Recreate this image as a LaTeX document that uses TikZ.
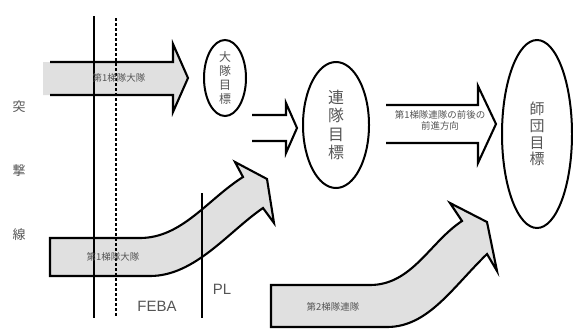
\documentclass[tikz,border=0pt]{standalone}
\usepackage{fontspec}
\setmainfont{Liberation Sans}
\newfontfamily\jp{Noto Sans CJK JP}
\usetikzlibrary{shapes.geometric}
\definecolor{arrfill}{HTML}{E0E0E0}
\definecolor{txt}{HTML}{555555}
\tikzset{
  outl/.style={line width=2.1bp, line join=miter, draw=black},
  goal/.style={ellipse, draw=black, line width=2bp, inner sep=0pt},
  goaltxt/.style={align=center, text=txt, inner sep=0pt},
  arrtxt/.style={text=txt, inner sep=0pt, font=\jp\fontsize{9.5}{11}\selectfont, align=center},
  vline/.style={line width=1.8bp},
}
\begin{document}
\begin{tikzpicture}[x=1bp,y=-1bp]
\useasboundingbox (0,0) rectangle (573,329);
% vertical lines
\coordinate (L1t) at (94,16); \coordinate (L1b) at (94,318);
\coordinate (L2t) at (116,18); \coordinate (L2b) at (116,318);
\coordinate (PLt) at (202,193); \coordinate (PLb) at (202,318);
% top arrow (1st echelon battalion)
\fill[arrfill] (43,62) -- (173,62) -- (173,44) -- (188,78) -- (173,112) -- (173,95) -- (43,95) -- cycle;
\draw[outl] (50,62) -- (173,62) -- (173,44) -- (188,78) -- (173,112) -- (173,95) -- (50,95);
% lower curved arrow 1
\filldraw[outl, fill=arrfill] (50,238) -- (140,238) .. controls (182,238) and (208,199) .. (243,177)
  -- (235,162) -- (267,179) -- (274,223) -- (263,208)
  .. controls (228,232) and (195,276) .. (150,276) -- (50,276) -- cycle;
% lower curved arrow 2
\filldraw[outl, fill=arrfill] (271,285) -- (370,285) .. controls (412,285) and (430,242) .. (462,221)
  -- (450,203) -- (487,222) -- (497,271) -- (487,254)
  .. controls (452,288) and (428,327) .. (387,327) -- (271,327) -- cycle;
% lines
\draw[vline] (L1t) -- (L1b);
\draw[vline, dash pattern=on 3bp off 2bp] (L2t) -- (L2b);
\draw[vline] (PLt) -- (PLb);
% small open arrow
\draw[outl, fill=white] (252,115) -- (286,115) -- (286,103) -- (297,128) -- (286,153) -- (286,141) -- (252,141);
% regiment open arrow
\draw[outl, fill=white] (386,105) -- (478,105) -- (478,86) -- (496,124) -- (478,163) -- (478,143) -- (386,143);
% goals
\node[goal, minimum width=42bp, minimum height=76bp] (g1) at (225,78) {};
\node[goaltxt, font=\jp\fontsize{12}{14}\selectfont] (g1t) at (g1.center) {大\\隊\\目\\標};
\node[goal, minimum width=66bp, minimum height=126bp] (g2) at (336,125) {};
\node[goaltxt, font=\jp\fontsize{16}{18.3}\selectfont] (g2t) at (g2.center) {連\\隊\\目\\標};
\node[goal, minimum width=70bp, minimum height=188bp] (g3) at (537,134) {};
\node[goaltxt, font=\jp\fontsize{15}{16.7}\selectfont] (g3t) at (g3.center) {師\\団\\目\\標};
% texts
\node[arrtxt] (t1) at (119,78) {第1梯隊大隊};
\node[arrtxt] (t2) at (113,257) {第1梯隊大隊};
\node[arrtxt] (t3) at (333,307) {第2梯隊連隊};
\node[arrtxt] (t4) at (440,120) {第1梯隊連隊の前後の\\前進方向};
\node[text=txt, font=\jp\fontsize{13}{15}\selectfont, inner sep=0pt] (s1) at (19,107) {突};
\node[text=txt, font=\jp\fontsize{13}{15}\selectfont, inner sep=0pt] (s2) at (19,171) {撃};
\node[text=txt, font=\jp\fontsize{13}{15}\selectfont, inner sep=0pt] (s3) at (19,235) {線};
\node[text=txt, font=\fontsize{15}{17}\selectfont, inner sep=0pt] (feba) at (157,306) {FEBA};
\node[text=txt, font=\fontsize{15}{17}\selectfont, inner sep=0pt] (pl) at (222,289) {PL};
\end{tikzpicture}
\end{document}
